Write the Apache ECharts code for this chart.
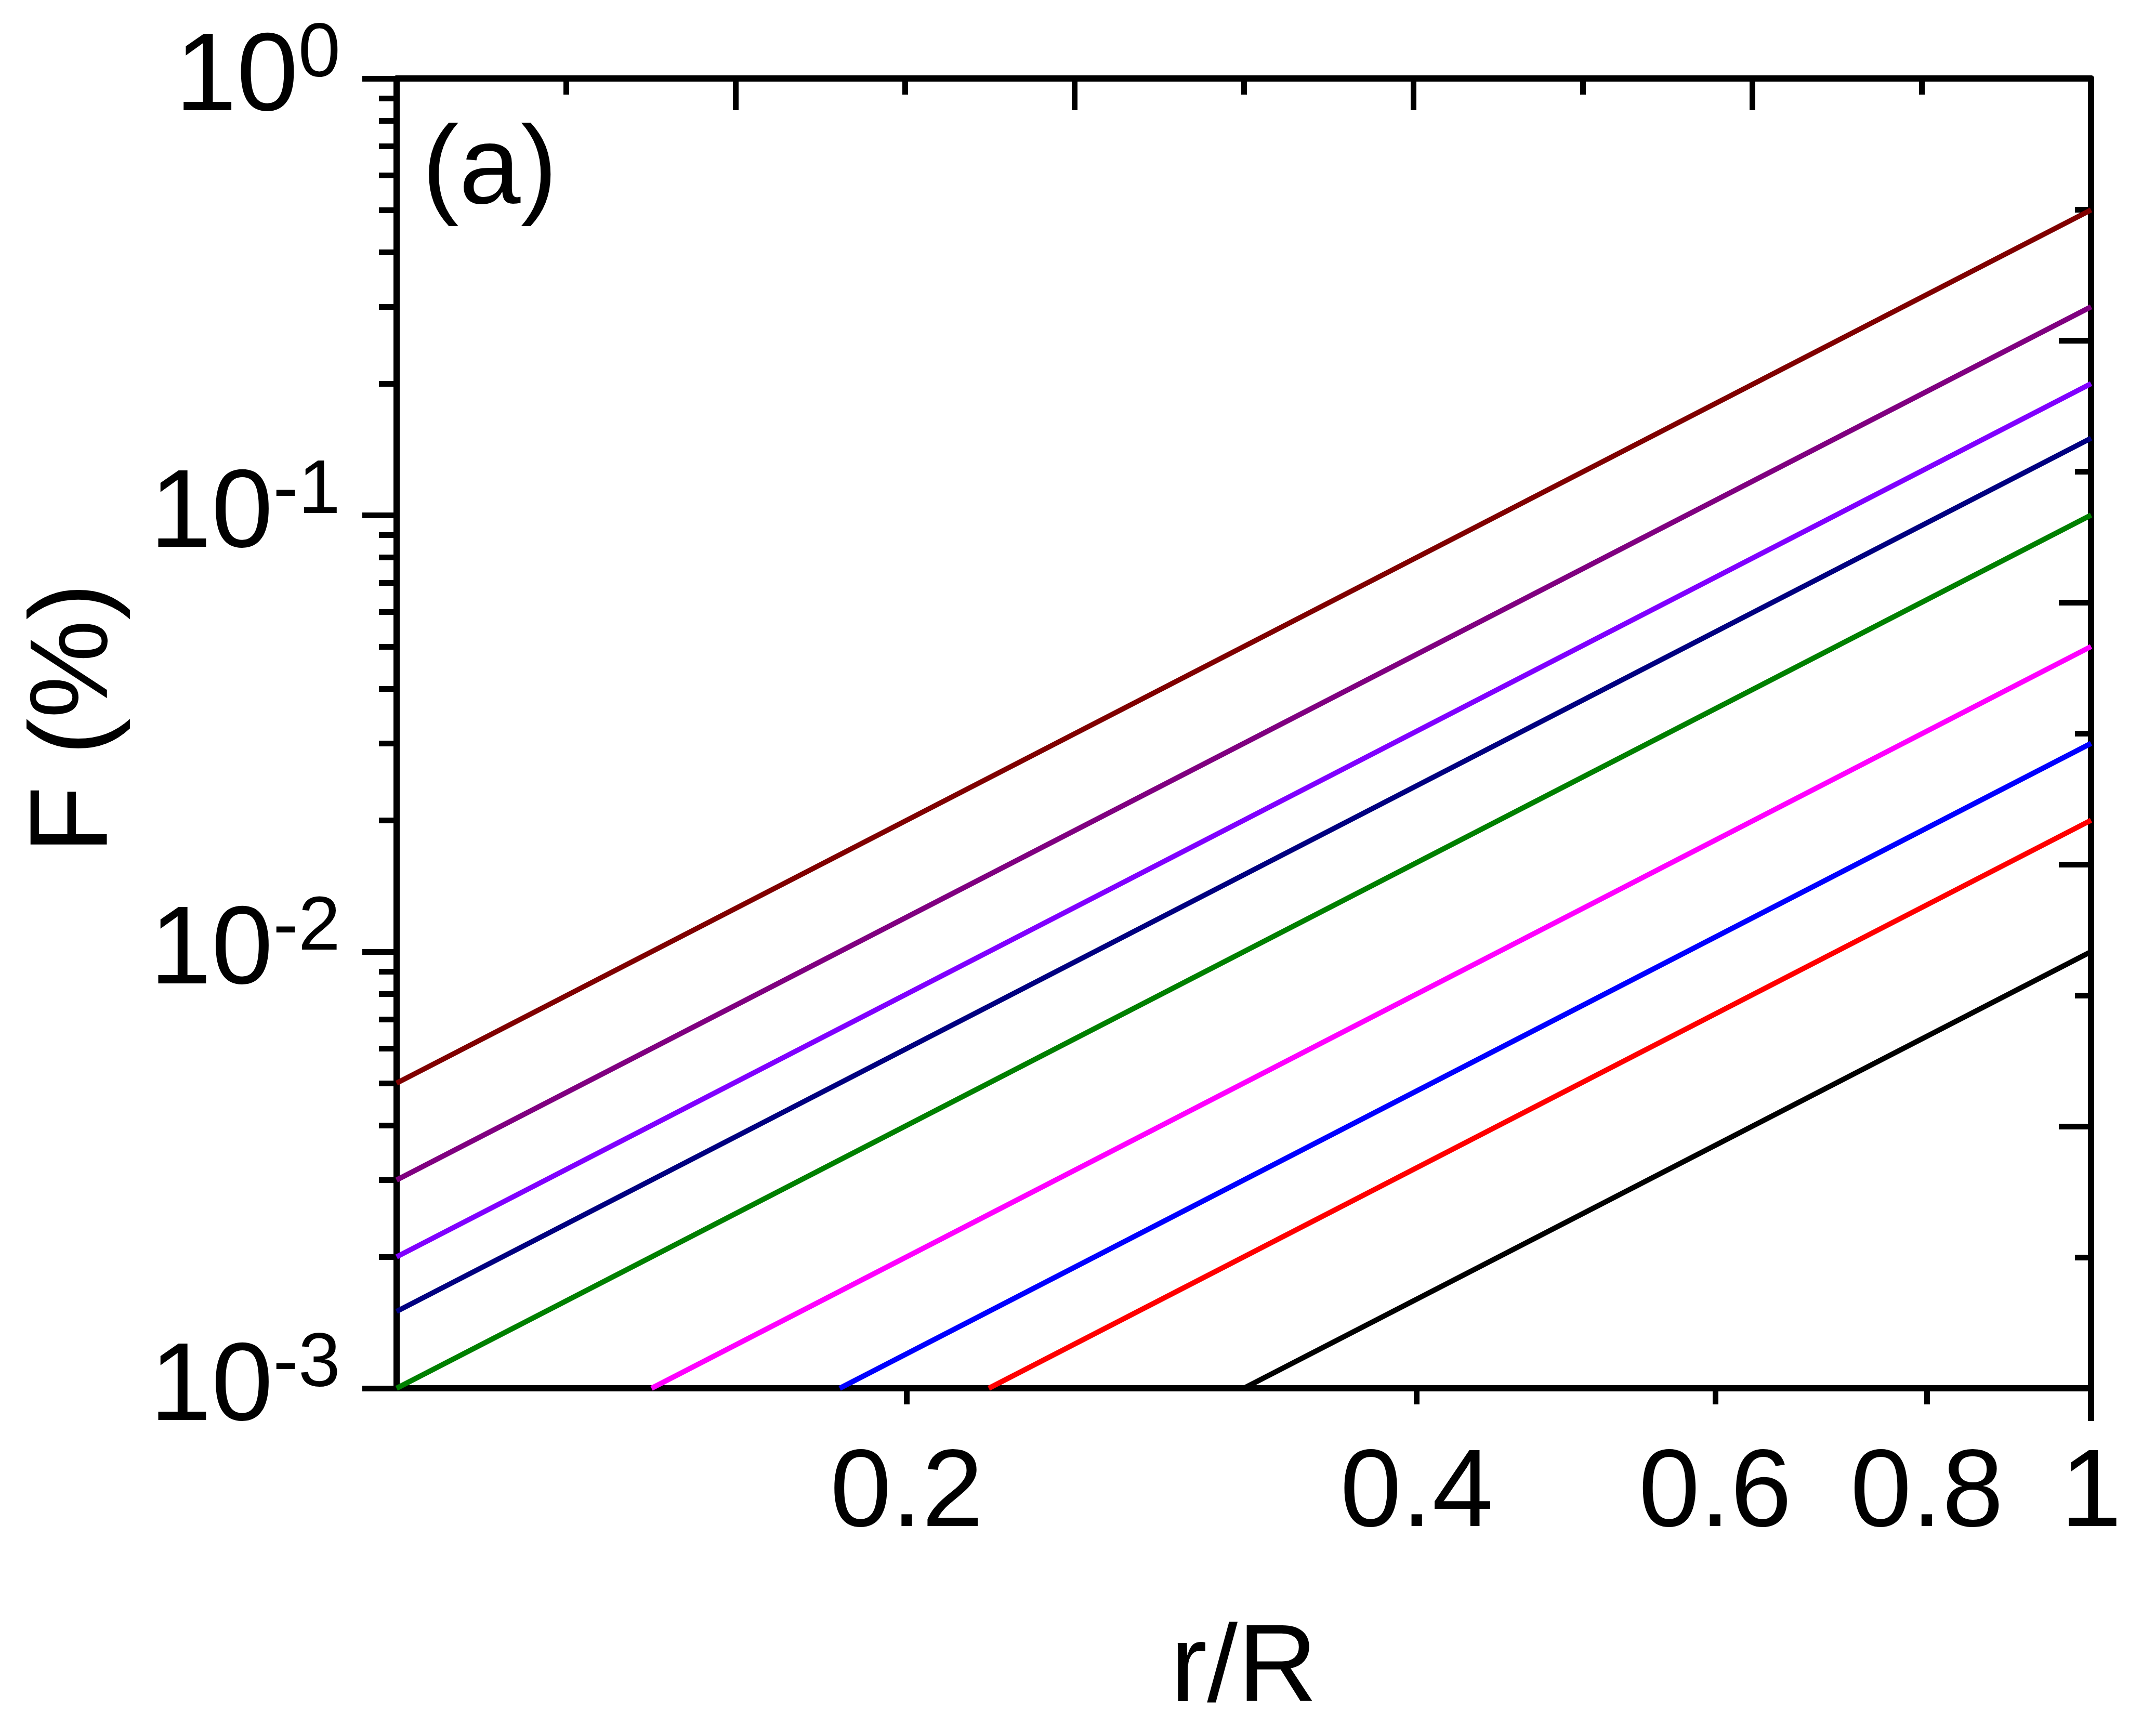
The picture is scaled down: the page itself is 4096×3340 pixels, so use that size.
<!DOCTYPE html>
<html>
<head>
<meta charset="utf-8">
<script src="https://cdn.jsdelivr.net/npm/echarts@6/dist/echarts.min.js"></script>
<style>
html,body{margin:0;padding:0;background:#fff;}
#chart{width:4096px;height:3340px;}
</style>
</head>
<body>
<div id="chart"></div>
<script>
// ---- data (F in %, r/R) ----
const seriesNames = ['c1','c2','c3','c4','c5','c6','c7','c8','c9'];
const rStart = [0.1, 0.1, 0.1, 0.1, 0.1, 0.1414, 0.1826, 0.2236, 0.3162];
const fStart = [0.005, 0.003, 0.002, 0.0015, 0.001, 0.001, 0.001, 0.001, 0.001];
const rEnd   = [1, 1, 1, 1, 1, 1, 1, 1, 1];
const fEnd   = [0.5, 0.3, 0.2, 0.15, 0.1, 0.05, 0.03, 0.02, 0.01];
const lineColors = ['#800000','#800080','#8000FF','#000080','#008000','#FF00FF','#0000FF','#FF0000','#000000'];

const xTickLabels = [0.2, 0.4, 0.6, 0.8, 1];
const xTicks = [0.2, 0.4, 0.6, 0.8];
const xEndTick = [1];
const yMajorTicks = [0.001, 0.01, 0.1, 1];
const yMinorTicks = [0.002,0.003,0.004,0.005,0.006,0.007,0.008,0.009,
                     0.02,0.03,0.04,0.05,0.06,0.07,0.08,0.09,
                     0.2,0.3,0.4,0.5,0.6,0.7,0.8,0.9];

const FONT = 'Liberation Sans, Arial, sans-serif';
const AX_W = 12, TK_W = 11;

const chart = echarts.init(document.getElementById('chart'), null, {renderer: 'canvas'});

const series = seriesNames.map((n, i) => ({
  name: n,
  type: 'line',
  xAxisIndex: 0,
  yAxisIndex: 0,
  showSymbol: false,
  symbol: 'none',
  clip: true,
  lineStyle: {color: lineColors[i], width: 10},
  data: [[rStart[i], fStart[i]], [rEnd[i], fEnd[i]]],
  z: 3
}));

const option = {
  animation: false,
  backgroundColor: '#fff',
  grid: {left: 763, right: 73, top: 151, bottom: 669, containLabel: false},
  xAxis: [
    {
      type: 'log', logBase: 10, position: 'bottom', min: 0.1, max: 1,
      axisLine: {show: true, lineStyle: {color: '#000', width: AX_W}},
      axisTick: {show: true, inside: false, length: 31, customValues: xTicks, lineStyle: {color: '#000', width: TK_W}},
      axisLabel: {show: true, customValues: xTickLabels, margin: 101, color: '#000', fontSize: 212, fontFamily: FONT,
                  formatter: v => String(+(+v).toFixed(2))},
      splitLine: {show: false}, minorTick: {show: false}, minorSplitLine: {show: false},
      name: 'r/R', nameLocation: 'middle', nameGap: 438,
      nameTextStyle: {color: '#000', fontSize: 212, fontFamily: FONT}
    },
    {
      type: 'log', logBase: 10, position: 'bottom', min: 0.1, max: 1,
      axisLine: {show: false},
      axisTick: {show: true, inside: false, length: 63, customValues: xEndTick, lineStyle: {color: '#000', width: AX_W}},
      axisLabel: {show: false},
      splitLine: {show: false}
    },
    {
      type: 'value', position: 'top', min: 0, max: 5, interval: 1,
      axisLine: {show: true, lineStyle: {color: '#000', width: AX_W}},
      axisTick: {show: true, inside: true, length: 61, lineStyle: {color: '#000', width: TK_W}},
      minorTick: {show: true, splitNumber: 2, length: 31, lineStyle: {color: '#000', width: TK_W}},
      axisLabel: {show: false},
      splitLine: {show: false}
    }
  ],
  yAxis: [
    {
      type: 'log', logBase: 10, position: 'left', min: 0.001, max: 1,
      axisLine: {show: true, lineStyle: {color: '#000', width: AX_W}},
      axisTick: {show: true, inside: false, length: 66, customValues: yMajorTicks, lineStyle: {color: '#000', width: TK_W}},
      axisLabel: {
        show: true, customValues: yMajorTicks, margin: 108, color: '#000', fontFamily: FONT,
        formatter: v => '{b|10}{s|' + Math.round(Math.log10(v)) + '}',
        rich: {
          b: {fontSize: 213, lineHeight: 235, fontFamily: FONT, color: '#000', verticalAlign: 'top', padding: [13, 0, 0, 0]},
          s: {fontSize: 146, lineHeight: 82, fontFamily: FONT, color: '#000', verticalAlign: 'top', padding: [0, 0, 0, 0]}
        }
      },
      splitLine: {show: false}, minorTick: {show: false},
      name: 'F (%)', nameLocation: 'middle', nameGap: 509,
      nameTextStyle: {color: '#000', fontSize: 213, fontFamily: FONT, padding: [0, 0, 0, 58]}
    },
    {
      type: 'log', logBase: 10, position: 'left', min: 0.001, max: 1,
      axisLine: {show: false},
      axisTick: {show: true, inside: false, length: 34, customValues: yMinorTicks, lineStyle: {color: '#000', width: TK_W}},
      axisLabel: {show: false},
      splitLine: {show: false}
    },
    {
      type: 'value', position: 'right', min: 0, max: 10, interval: 2,
      axisLine: {show: true, lineStyle: {color: '#000', width: AX_W}},
      axisTick: {show: true, inside: true, length: 62, lineStyle: {color: '#000', width: TK_W}},
      minorTick: {show: true, splitNumber: 2, length: 31, lineStyle: {color: '#000', width: TK_W}},
      axisLabel: {show: false},
      splitLine: {show: false}
    }
  ],
  graphic: [
    {
      type: 'text', left: 812, top: 226, z: 10,
      style: {text: '(a)', fill: '#000', font: '213px ' + FONT, textVerticalAlign: 'top'}
    }
  ],
  series: series
};

chart.setOption(option);
</script>
</body>
</html>
